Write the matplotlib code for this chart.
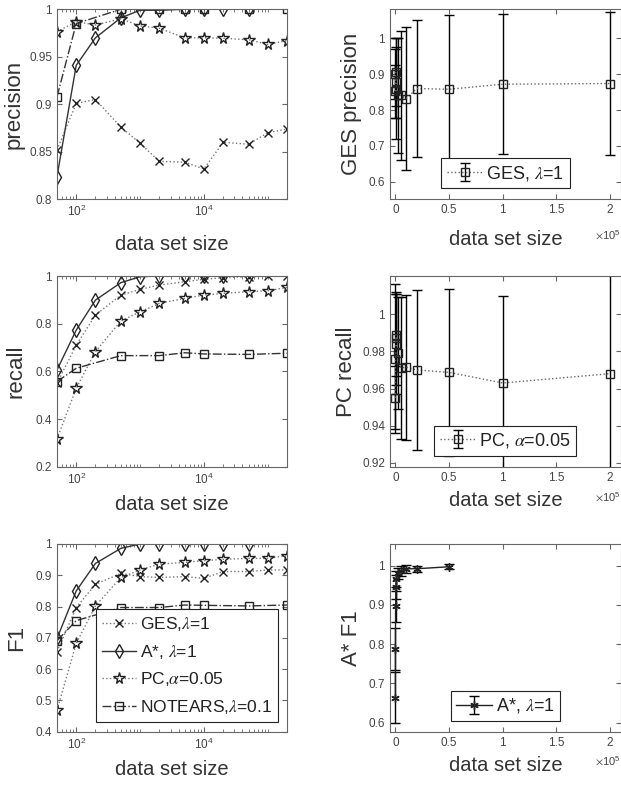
import matplotlib
matplotlib.use('Agg')
import matplotlib.pyplot as plt
import matplotlib.ticker as ticker

plt.rcParams['font.family'] = 'Liberation Sans'
plt.rcParams['mathtext.fontset'] = 'stix'

# data set sizes
n_all = [50, 100, 200, 500, 1000, 2000, 5000, 10000, 20000, 50000, 100000, 200000]
n_astar = [50, 100, 200, 500, 1000, 2000, 5000, 10000, 20000, 50000]
n_notears = [50, 100, 500, 2000, 5000, 10000, 50000, 200000]

# left column: mean scores
ges_prec = [0.852, 0.901, 0.905, 0.876, 0.859, 0.840, 0.839, 0.832, 0.860, 0.858, 0.870, 0.874]
astar_prec = [0.824, 0.941, 0.970, 0.991, 0.999, 0.999, 1.0, 1.0, 1.0, 1.0]
pc_prec = [0.9765, 0.987, 0.9835, 0.990, 0.9825, 0.980, 0.970, 0.970, 0.9695, 0.968, 0.963, 0.967]
notears_prec = [0.908, 0.985, 1.0, 1.0, 1.0, 1.0, 1.0, 1.0]

ges_rec = [0.550, 0.710, 0.836, 0.920, 0.944, 0.962, 0.976, 0.986, 0.993, 0.997, 1.0, 1.0]
astar_rec = [0.606, 0.773, 0.899, 0.972, 0.997, 1.0, 1.0, 1.0, 1.0, 1.0]
pc_rec = [0.316, 0.529, 0.683, 0.811, 0.850, 0.885, 0.906, 0.920, 0.927, 0.934, 0.938, 0.952]
notears_rec = [0.557, 0.613, 0.666, 0.666, 0.678, 0.673, 0.671, 0.676]

ges_f1 = [0.656, 0.797, 0.871, 0.906, 0.896, 0.893, 0.896, 0.890, 0.912, 0.912, 0.917, 0.917]
astar_f1 = [0.698, 0.850, 0.938, 0.986, 1.0, 1.0, 1.0, 1.0, 1.0, 1.0]
pc_f1 = [0.469, 0.682, 0.802, 0.893, 0.917, 0.936, 0.941, 0.947, 0.951, 0.954, 0.954, 0.963]
notears_f1 = [0.691, 0.755, 0.797, 0.797, 0.805, 0.804, 0.802, 0.805]

# right column: mean and std
ges_prec_m = [0.852, 0.901, 0.905, 0.877, 0.860, 0.841, 0.841, 0.832, 0.860, 0.858, 0.872, 0.874]
ges_prec_s = [0.075, 0.070, 0.095, 0.100, 0.140, 0.160, 0.180, 0.200, 0.190, 0.207, 0.195, 0.200]
pc_rec_m = [0.955, 0.976, 0.984, 0.989, 0.987, 0.979, 0.971, 0.9715, 0.970, 0.9687, 0.963, 0.968]
pc_rec_s = [0.017, 0.040, 0.027, 0.022, 0.025, 0.030, 0.038, 0.039, 0.043, 0.045, 0.047, 0.055]
astar_f1_m = [0.664, 0.787, 0.896, 0.945, 0.966, 0.980, 0.986, 0.992, 0.992, 0.997]
astar_f1_s = [0.065, 0.053, 0.040, 0.030, 0.020, 0.015, 0.012, 0.010, 0.008, 0.006]

TXT = '#333333'
SPINE = '#666666'

fig = plt.figure(figsize=(6.21, 7.90), dpi=100)
H = 790.0
W = 621.0
rows = [(9.3, 199.3), (276.0, 466.7), (544.0, 731.7)]
left_x = (57.0, 287.0)
right_x = (390.0, 620.7)


def make_ax(xr, yr):
    return fig.add_axes([xr[0] / W, 1 - yr[1] / H, (xr[1] - xr[0]) / W, (yr[1] - yr[0]) / H])


def style(ax):
    for s in ax.spines.values():
        s.set_color(SPINE)
        s.set_linewidth(0.8)
    ax.tick_params(which='both', direction='in', top=True, right=True,
                   colors=SPINE, labelcolor='#444444', labelsize=8.5)
    ax.tick_params(which='major', length=3.5)
    ax.tick_params(which='minor', length=2)


def left_panel(ax, data, ylim, yticks, ylabel, ycoord, xcoord_label):
    ges, astar, pc, notears = data
    ax.semilogx(n_all, ges, ':', color='#777777', lw=1, marker='x', ms=6,
                mec='#222222', label=r'GES,$\lambda$=1')
    ax.semilogx(n_astar, astar, '-', color='#333333', lw=1, marker='d', ms=7.5,
                mfc='none', mec='#222222', label=r'A*, $\lambda$=1')
    ax.semilogx(n_all, pc, ':', color='#777777', lw=1, marker='*', ms=8.5,
                mfc='none', mec='#222222', label=r'PC,$\alpha$=0.05')
    ax.semilogx(n_notears, notears, '-.', color='#333333', lw=1, marker='s', ms=6,
                mfc='none', mec='#222222', label=r'NOTEARS,$\lambda$=0.1')
    ax.set_xlim(50, 2e5)
    ax.set_ylim(*ylim)
    ax.set_yticks(yticks)
    ax.yaxis.set_major_formatter(ticker.FuncFormatter(lambda v, p: f'{v:g}'))
    ax.xaxis.set_major_locator(ticker.LogLocator(base=100))
    ax.xaxis.set_minor_locator(ticker.LogLocator(base=10, subs=range(1, 10)))
    ax.xaxis.set_minor_formatter(ticker.NullFormatter())
    style(ax)
    ax.set_ylabel(ylabel, fontsize=16, color=TXT)
    ax.yaxis.set_label_coords(ycoord, 0.5)
    ax.set_xlabel('data set size', fontsize=14.5, color=TXT)
    ax.xaxis.set_label_coords(0.5, xcoord_label)


def right_panel(ax, x, m, s, fmt_kw, label, ylim, yticks, ylabel, ycoord, xcoord_label):
    ax.errorbar(x, m, yerr=s, ecolor='black', elinewidth=1, capsize=3.5,
                capthick=1, label=label, **fmt_kw)
    ax.set_xlim(-5000, 2.1e5)
    ax.set_ylim(*ylim)
    ax.set_xticks([0, 50000, 100000, 150000, 200000])
    ax.xaxis.set_major_formatter(ticker.FuncFormatter(lambda v, p: f'{v / 1e5:g}'))
    ax.set_yticks(yticks)
    ax.yaxis.set_major_formatter(ticker.FuncFormatter(lambda v, p: f'{v:g}'))
    style(ax)
    ax.set_ylabel(ylabel, fontsize=16, color=TXT)
    ax.yaxis.set_label_coords(ycoord, 0.5)
    ax.set_xlabel('data set size', fontsize=14.5, color=TXT)
    ax.xaxis.set_label_coords(0.5, xcoord_label)
    ax.text(1.0, xcoord_label - 0.03, r'$\times\mathdefault{10^5}$', transform=ax.transAxes,
            ha='right', va='center', fontsize=8, color='#444444')


# left column
ax1 = make_ax(left_x, rows[0])
left_panel(ax1, (ges_prec, astar_prec, pc_prec, notears_prec), (0.8, 1.0),
           [0.8, 0.85, 0.9, 0.95, 1.0], 'precision', -0.139, -0.19)

ax2 = make_ax(left_x, rows[1])
left_panel(ax2, (ges_rec, astar_rec, pc_rec, notears_rec), (0.2, 1.0),
           [0.2, 0.4, 0.6, 0.8, 1.0], 'recall', -0.132, -0.15)

ax3 = make_ax(left_x, rows[2])
left_panel(ax3, (ges_f1, astar_f1, pc_f1, notears_f1), (0.4, 1.0),
           [0.4, 0.5, 0.6, 0.7, 0.8, 0.9, 1.0], 'F1', -0.13, -0.15)
leg = ax3.legend(loc='lower right', bbox_to_anchor=(0.962, 0.053), borderaxespad=0,
                 fontsize=12.5, handlelength=2.0, handletextpad=0.2, labelspacing=0.55,
                 borderpad=0.35, fancybox=False, framealpha=1, edgecolor='#222222')
leg.get_frame().set_linewidth(0.8)
for t in leg.get_texts():
    t.set_color('#222222')

# right column
sq = dict(fmt='s', ls=':', color='#666666', lw=1, ms=6, mfc='none', mec='#222222')
ax4 = make_ax(right_x, rows[0])
right_panel(ax4, n_all, ges_prec_m, ges_prec_s, sq, r'GES, $\lambda$=1', (0.551, 1.081),
            [0.6, 0.7, 0.8, 0.9, 1.0], 'GES precision', -0.123, -0.16)

ax5 = make_ax(right_x, rows[1])
right_panel(ax5, n_all, pc_rec_m, pc_rec_s, sq, r'PC, $\alpha$=0.05', (0.918, 1.0205),
            [0.92, 0.94, 0.96, 0.98, 1.0], 'PC recall', -0.144, -0.13)

ast = dict(fmt='-', color='#222222', lw=1, marker=(6, 2, 0), ms=6, mec='#222222')
ax6 = make_ax(right_x, rows[2])
right_panel(ax6, n_astar, astar_f1_m, astar_f1_s, ast, r'A*, $\lambda$=1', (0.577, 1.055),
            [0.6, 0.7, 0.8, 0.9, 1.0], 'A* F1', -0.123, -0.13)

for ax in (ax4, ax5, ax6):
    lg = ax.legend(loc='lower center', bbox_to_anchor=(0.5, 0.058), borderaxespad=0,
                   fontsize=13, handlelength=2.0, handletextpad=0.2, borderpad=0.3,
                   fancybox=False, framealpha=1, edgecolor='#222222')
    lg.get_frame().set_linewidth(0.8)
    for t in lg.get_texts():
        t.set_color('#222222')

fig.savefig('out.png', dpi=100)
